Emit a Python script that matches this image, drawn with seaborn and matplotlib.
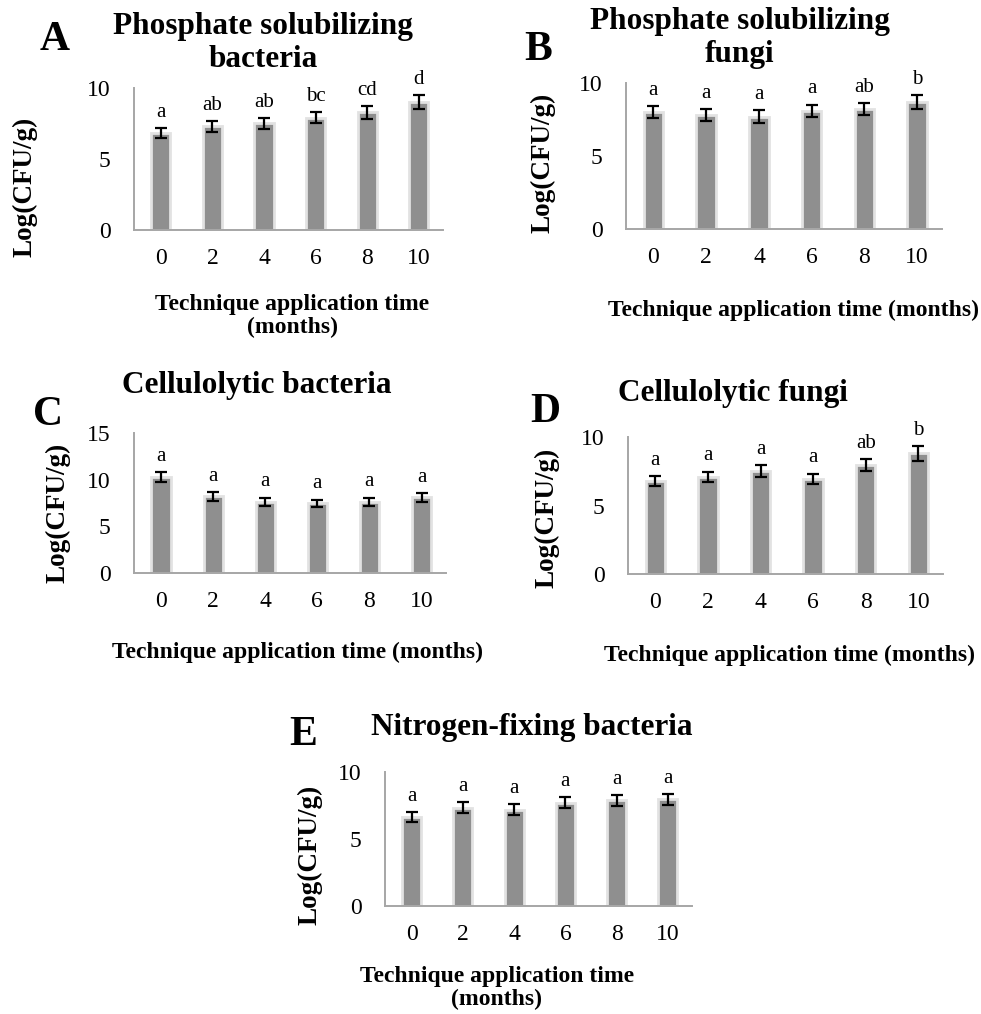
import numpy as np
import pandas as pd
import matplotlib
matplotlib.use("Agg")
import matplotlib.pyplot as plt
import seaborn as sns

# Sampling times (months after technique application)
months = ["0", "2", "4", "6", "8", "10"]

# Mean microbial counts, Log(CFU/g), with error (SE) and significance letters
psb_mean = [6.8, 7.3, 7.5, 7.9, 8.3, 9.0]
psb_err = [0.35, 0.38, 0.38, 0.40, 0.45, 0.48]
psb_sig = ["a", "ab", "ab", "bc", "cd", "d"]

psf_mean = [8.0, 7.8, 7.7, 8.1, 8.2, 8.7]
psf_err = [0.42, 0.42, 0.42, 0.42, 0.42, 0.48]
psf_sig = ["a", "a", "a", "a", "ab", "b"]

cb_mean = [10.25, 8.2, 7.65, 7.45, 7.65, 8.1]
cb_err = [0.55, 0.45, 0.43, 0.42, 0.43, 0.45]
cb_sig = ["a", "a", "a", "a", "a", "a"]

cf_mean = [6.8, 7.1, 7.5, 6.95, 7.95, 8.8]
cf_err = [0.37, 0.38, 0.43, 0.38, 0.43, 0.52]
cf_sig = ["a", "a", "a", "a", "ab", "b"]

nfb_mean = [6.65, 7.35, 7.2, 7.7, 7.9, 7.95]
nfb_err = [0.35, 0.38, 0.38, 0.40, 0.40, 0.40]
nfb_sig = ["a", "a", "a", "a", "a", "a"]

sns.set_style("white")
plt.rcParams["font.family"] = ["Liberation Serif", "DejaVu Serif"]
plt.rcParams["text.color"] = "black"
plt.rcParams["xtick.color"] = "black"
plt.rcParams["ytick.color"] = "black"
plt.rcParams["axes.labelcolor"] = "black"

W, H = 981, 1014
fig = plt.figure(figsize=(W / 100, H / 100), dpi=100)

BAR = "#8f8f8f"
GLOW = "#e2e2e2"
SPINE = "#a6a6a6"


def px_axes(left, right, top, bottom):
    return fig.add_axes([left / W, 1 - bottom / H, (right - left) / W, (bottom - top) / H])


def ftext(x, y, s, **kw):
    fig.text(x / W, 1 - y / H, s, color="black", **kw)


def panel(box, means, errs, sigs, ymax, yticks, letter, letter_xy,
          title, title_xy, ylab_xy, xlab, xlab_xy):
    ax = px_axes(*box)
    df = pd.DataFrame({"month": months, "value": means})
    sns.barplot(data=df, x="month", y="value", color=BAR, width=0.37,
                edgecolor=GLOW, linewidth=2.0, saturation=1, ax=ax)
    xs = np.arange(len(months))
    ax.errorbar(xs, means, yerr=errs, fmt="none", ecolor="black",
                elinewidth=1.6, capsize=4.5, capthick=1.6, zorder=5)
    for x, m, e, s in zip(xs, means, errs, sigs):
        ax.annotate(s, xy=(x, m + e), xytext=(0, 8), textcoords="offset points",
                    ha="center", va="baseline", fontsize=15, color="black")
    ax.set_ylim(0, ymax)
    ax.set_xlim(-0.52, 5.47)
    ax.set_yticks(yticks)
    ax.set_yticklabels([str(t) for t in yticks])
    ax.tick_params(axis="x", length=0, pad=13, labelsize=17, labelcolor="black")
    ax.tick_params(axis="y", length=0, pad=17, labelsize=17, labelcolor="black")
    ax.set_xlabel("")
    ax.set_ylabel("")
    for side in ("top", "right"):
        ax.spines[side].set_visible(False)
    for side in ("left", "bottom"):
        ax.spines[side].set_color(SPINE)
        ax.spines[side].set_linewidth(1.4)
    ax.set_facecolor("white")

    ftext(*letter_xy, letter, fontsize=30, fontweight="bold", ha="center", va="center")
    ftext(*title_xy, title, fontsize=22.5, fontweight="bold", ha="center", va="center",
          linespacing=1.15)
    ftext(*ylab_xy, "Log(CFU/g)", fontsize=19.5, fontweight="bold", ha="center",
          va="center", rotation=90)
    ftext(*xlab_xy, xlab, fontsize=17, fontweight="bold", ha="center", va="center",
          linespacing=1.1)
    return ax


panel((134, 443, 88, 230), psb_mean, psb_err, psb_sig, 10, [0, 5, 10],
      "A", (55, 40), "Phosphate solubilizing\nbacteria", (263, 43), (25, 187),
      "Technique application time\n(months)", (292, 316))

panel((626, 942, 83, 229), psf_mean, psf_err, psf_sig, 10, [0, 5, 10],
      "B", (538, 50), "Phosphate solubilizing\nfungi", (740, 38), (543, 163),
      "Technique application time (months)", (793, 310))

panel((134, 446, 433, 573), cb_mean, cb_err, cb_sig, 15, [0, 5, 10, 15],
      "C", (48, 415), "Cellulolytic bacteria", (257, 385), (58, 513),
      "Technique application time (months)", (297, 652))

panel((628, 943, 437, 574), cf_mean, cf_err, cf_sig, 10, [0, 5, 10],
      "D", (545, 412), "Cellulolytic fungi", (733, 393), (547, 518),
      "Technique application time (months)", (790, 655))

panel((385, 692, 772, 906), nfb_mean, nfb_err, nfb_sig, 10, [0, 5, 10],
      "E", (303, 735), "Nitrogen-fixing bacteria", (532, 727), (310, 855),
      "Technique application time\n(months)", (497, 988))

fig.savefig("out.png", dpi=100, facecolor="white")
